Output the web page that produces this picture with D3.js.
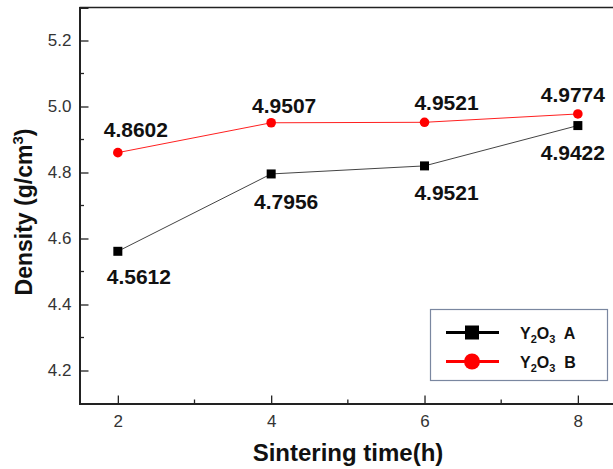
<!DOCTYPE html>
<html>
<head>
<meta charset="utf-8">
<script src="https://cdn.jsdelivr.net/npm/d3@7"></script>
<style>
  html, body { margin: 0; padding: 0; background: #fff; }
  svg { display: block; }
</style>
</head>
<body>
<div id="chart"></div>
<script>
// Sintering time vs density, two Y2O3 powders
const times = [2, 4, 6, 8];
const densityA = [4.5612, 4.7956, 4.82, 4.9422];
const densityB = [4.8602, 4.9507, 4.9521, 4.9774];
// printed labels (the 6 h label of A reads 4.9521 in the source figure)
const labelsA = ["4.5612", "4.7956", "4.9521", "4.9422"];
const labelsB = ["4.8602", "4.9507", "4.9521", "4.9774"];
const yTicks = [4.2, 4.4, 4.6, 4.8, 5.0, 5.2];
const yMinor = [4.3, 4.5, 4.7, 4.9, 5.1];
const xTicks = [2, 4, 6, 8];
const xMinor = [3, 5, 7];

(function() {
  const W = 613, H = 469;
  const left = 79.5, top = 7.5, bottom = 403.5;

  const x = d3.scaleLinear().domain([1.5, 8.5]).range([left, left + 7 * 76.67]);
  const y = d3.scaleLinear().domain([4.1, 5.3]).range([bottom, top]);

  const svg = d3.select("#chart").append("svg")
    .attr("width", W).attr("height", H)
    .style("font-family", "'Liberation Sans', Arial, sans-serif");

  // frame: left, bottom, top (right edge falls outside the image)
  svg.append("line").attr("x1", left).attr("x2", W + 5).attr("y1", top).attr("y2", top)
    .attr("stroke", "#222").attr("stroke-width", 1.5);

  // Y axis, ticks inward
  const yAxis = svg.append("g").attr("transform", `translate(${left},0)`)
    .call(d3.axisLeft(y).tickValues(yTicks).tickSize(-9).tickPadding(8).tickFormat(d3.format(".1f")));
  yAxis.select(".domain").attr("stroke", "#222").attr("stroke-width", 2);
  yAxis.selectAll(".tick line").attr("stroke", "#222").attr("stroke-width", 1.3);
  yAxis.selectAll(".tick text").style("font-size", "17px").attr("fill", "#333")
    .style("font-family", "'Liberation Sans', Arial, sans-serif");
  yAxis.selectAll(".minor").data(yMinor).enter().append("line")
    .attr("x1", 0).attr("x2", 4.5).attr("y1", d => y(d)).attr("y2", d => y(d))
    .attr("stroke", "#222").attr("stroke-width", 1.3);

  // X axis, ticks inward
  const xAxis = svg.append("g").attr("transform", `translate(0,${bottom})`)
    .call(d3.axisBottom(x).tickValues(xTicks).tickSize(-8).tickPadding(11).tickFormat(d3.format("d")));
  xAxis.select(".domain").attr("stroke", "#222").attr("stroke-width", 2);
  xAxis.selectAll(".tick line").attr("stroke", "#222").attr("stroke-width", 1.3);
  xAxis.selectAll(".tick text").style("font-size", "17px").attr("fill", "#333")
    .style("font-family", "'Liberation Sans', Arial, sans-serif");
  xAxis.selectAll(".minor").data(xMinor).enter().append("line")
    .attr("x1", d => x(d)).attr("x2", d => x(d)).attr("y1", 0).attr("y2", -4)
    .attr("stroke", "#222").attr("stroke-width", 1.3);

  // axis titles
  svg.append("text").attr("x", 348).attr("y", 461).attr("text-anchor", "middle")
    .style("font-size", "24px").style("font-weight", "bold").attr("fill", "#111")
    .text("Sintering time(h)");

  const yt = svg.append("text").attr("transform", "translate(32,212) rotate(-90)")
    .attr("text-anchor", "middle").style("font-size", "23px").style("font-weight", "bold").attr("fill", "#111");
  yt.append("tspan").text("Density (g/cm");
  yt.append("tspan").attr("dy", "-9").style("font-size", "15px").text("3");
  yt.append("tspan").attr("dy", "9").text(")");

  const line = d3.line().x(d => x(d[0])).y(d => y(d[1]));
  const ptsA = times.map((t, i) => [t, densityA[i]]);
  const ptsB = times.map((t, i) => [t, densityB[i]]);

  svg.append("path").datum(ptsA).attr("d", line).attr("fill", "none")
    .attr("stroke", "#444").attr("stroke-width", 1);
  svg.append("path").datum(ptsB).attr("d", line).attr("fill", "none")
    .attr("stroke", "#ff2020").attr("stroke-width", 1);

  svg.selectAll(".sqA").data(ptsA).enter().append("rect")
    .attr("x", d => x(d[0]) - 4.5).attr("y", d => y(d[1]) - 4.5)
    .attr("width", 9).attr("height", 9).attr("fill", "#000");
  svg.selectAll(".ciB").data(ptsB).enter().append("circle")
    .attr("cx", d => x(d[0])).attr("cy", d => y(d[1])).attr("r", 4.8).attr("fill", "#ff0000");

  // value labels, offsets from each point
  const offA = [[21, 33], [15, 35], [22, 34], [-5, 34]];
  const offB = [[18, -16], [13, -10], [22, -12], [-5, -12]];
  const lab = (pts, labels, off) => svg.selectAll(null).data(pts).enter().append("text")
    .attr("x", (d, i) => x(d[0]) + off[i][0]).attr("y", (d, i) => y(d[1]) + off[i][1])
    .attr("text-anchor", "middle").style("font-size", "21px").style("font-weight", "bold")
    .attr("fill", "#111").text((d, i) => labels[i]);
  lab(ptsA, labelsA, offA);
  lab(ptsB, labelsB, offB);

  // legend
  const lg = svg.append("g");
  lg.append("rect").attr("x", 430.5).attr("y", 309.5).attr("width", 177).attr("height", 71)
    .attr("fill", "#fff").attr("stroke", "#7a87a0").attr("stroke-width", 1.2);
  const items = [
    { name: "A", color: "#000", y: 332.5, shape: "square" },
    { name: "B", color: "#ff0000", y: 361.5, shape: "circle" }
  ];
  items.forEach(it => {
    lg.append("line").attr("x1", 446).attr("x2", 499).attr("y1", it.y).attr("y2", it.y)
      .attr("stroke", it.color).attr("stroke-width", 3);
    if (it.shape === "square") {
      lg.append("rect").attr("x", 465).attr("y", it.y - 7).attr("width", 14).attr("height", 14).attr("fill", it.color);
    } else {
      lg.append("circle").attr("cx", 472).attr("cy", it.y).attr("r", 8).attr("fill", it.color);
    }
    const t = lg.append("text").attr("x", 520).attr("y", it.y + 6)
      .style("font-size", "16px").style("font-weight", "bold").attr("fill", "#111");
    t.append("tspan").text("Y");
    t.append("tspan").attr("dy", 4).style("font-size", "11px").text("2");
    t.append("tspan").attr("dy", -4).text("O");
    t.append("tspan").attr("dy", 4).style("font-size", "11px").text("3");
    t.append("tspan").attr("dy", -4).text("\u00a0 " + it.name);
  });
})();
</script>
</body>
</html>
